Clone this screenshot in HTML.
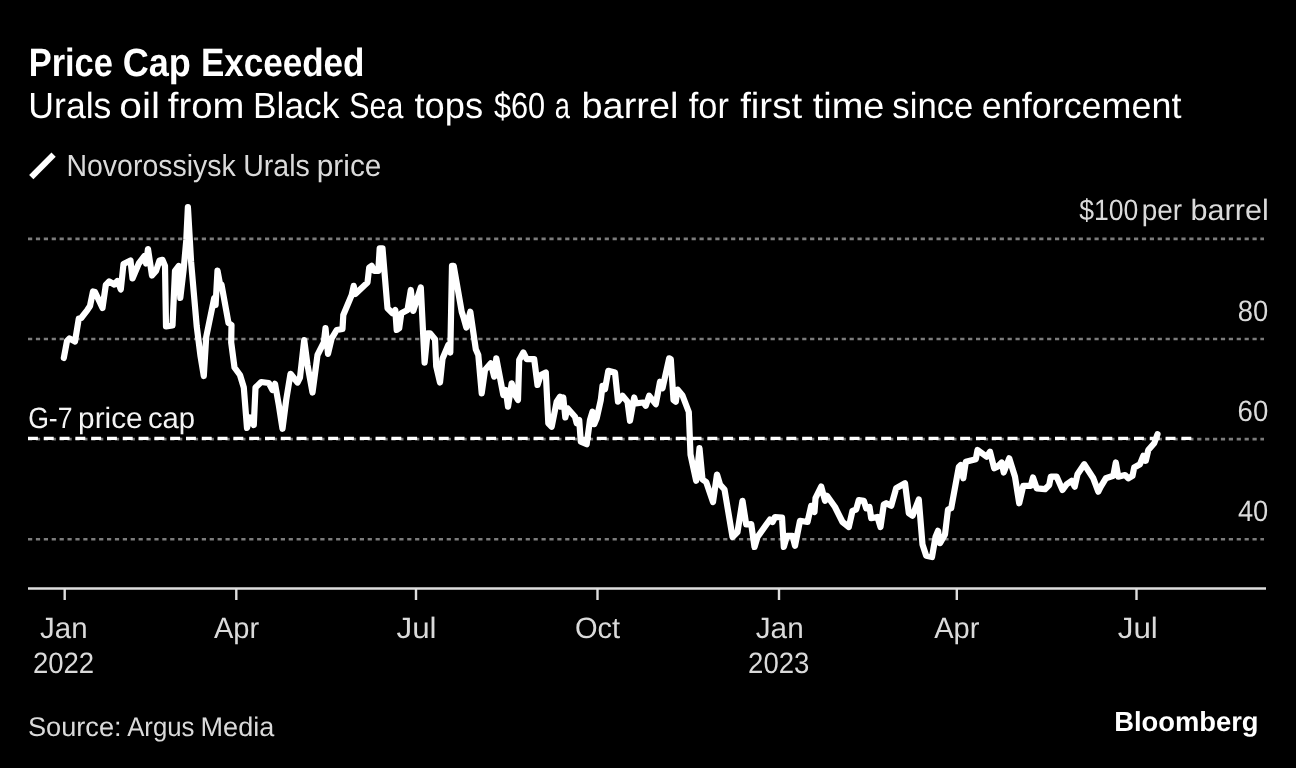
<!DOCTYPE html>
<html><head><meta charset="utf-8"><title>Price Cap Exceeded</title>
<style>
html,body{margin:0;padding:0;background:#000;}
body{width:1296px;height:768px;overflow:hidden;}
svg{display:block;will-change:transform;text-rendering:geometricPrecision;font-family:"Liberation Sans",sans-serif;}
</style></head><body>
<svg width="1296" height="768" viewBox="0 0 1296 768">
<rect width="1296" height="768" fill="#000000"/>
<line x1="28" x2="1264" y1="238.90" y2="238.90" stroke="#7c7c7c" stroke-width="2.6" stroke-dasharray="4.2 3.7"/>
<line x1="28" x2="1264" y1="339.03" y2="339.03" stroke="#7c7c7c" stroke-width="2.6" stroke-dasharray="4.2 3.7"/>
<line x1="28" x2="1264" y1="439.16" y2="439.16" stroke="#7c7c7c" stroke-width="2.6" stroke-dasharray="4.2 3.7"/>
<line x1="28" x2="1264" y1="539.29" y2="539.29" stroke="#7c7c7c" stroke-width="2.6" stroke-dasharray="4.2 3.7"/>
<line x1="28" x2="1191.5" y1="438.4" y2="438.4" stroke="#ffffff" stroke-width="3.3" stroke-dasharray="9.9 5.9"/>
<line x1="28" x2="1266" y1="588.5" y2="588.5" stroke="#dedede" stroke-width="2.4"/>
<line x1="64.7" x2="64.7" y1="588.5" y2="600" stroke="#dedede" stroke-width="2.4"/>
<line x1="236.3" x2="236.3" y1="588.5" y2="600" stroke="#dedede" stroke-width="2.4"/>
<line x1="416" x2="416" y1="588.5" y2="600" stroke="#dedede" stroke-width="2.4"/>
<line x1="597.5" x2="597.5" y1="588.5" y2="600" stroke="#dedede" stroke-width="2.4"/>
<line x1="779" x2="779" y1="588.5" y2="600" stroke="#dedede" stroke-width="2.4"/>
<line x1="956.8" x2="956.8" y1="588.5" y2="600" stroke="#dedede" stroke-width="2.4"/>
<line x1="1136.5" x2="1136.5" y1="588.5" y2="600" stroke="#dedede" stroke-width="2.4"/>
<polyline points="63.8,358.0 67.0,341.0 69.5,338.5 75.0,341.5 78.8,318.5 81.2,318.0 87.5,309.8 90.0,306.0 93.0,291.5 95.0,292.0 102.5,308.0 105.8,285.0 109.2,281.5 114.2,284.5 117.5,281.0 120.8,289.5 123.5,264.0 130.5,260.5 132.5,278.5 138.8,263.5 144.5,256.0 146.0,263.5 148.0,249.0 152.0,275.5 156.0,271.0 159.5,260.5 162.5,259.8 165.0,266.0 166.0,326.5 172.5,325.5 175.0,271.0 178.8,266.0 180.3,298.0 183.6,270.0 186.3,240.0 187.9,207.0 191.1,262.0 196.7,326.0 200.5,356.0 203.8,376.0 206.2,337.0 214.2,298.0 215.6,305.0 217.5,270.5 220.0,284.0 221.5,284.5 228.5,323.0 231.5,325.0 231.2,342.5 234.5,367.5 240.0,375.0 243.8,387.5 247.0,428.0 250.0,417.5 253.8,425.0 255.5,387.5 261.2,382.0 268.8,383.0 272.5,390.0 275.0,383.8 278.8,405.0 282.5,428.8 286.2,400.0 290.5,373.8 297.5,382.5 300.0,377.5 304.2,340.0 307.5,365.0 312.5,392.5 317.5,355.0 323.8,342.5 325.5,328.0 328.0,353.8 331.7,338.3 336.7,330.0 342.5,329.0 343.3,315.0 351.7,295.0 353.7,285.8 355.3,294.0 367.5,282.5 369.2,267.5 371.7,265.8 374.2,270.8 378.3,270.8 379.7,248.3 382.5,248.3 387.5,308.3 392.5,313.3 395.3,310.0 396.7,330.0 399.2,328.3 401.3,313.3 407.5,310.0 410.8,290.0 413.3,310.8 420.8,287.5 424.6,362.7 427.5,333.3 430.0,333.3 435.0,339.2 436.2,366.2 440.0,382.5 442.5,358.8 448.3,345.0 450.3,352.5 452.0,265.8 453.7,265.8 461.7,311.7 463.3,316.7 466.3,327.5 470.3,311.7 475.8,349.2 478.3,355.0 481.7,393.3 485.0,370.0 490.8,363.3 494.2,376.7 496.3,358.3 503.3,395.0 505.8,390.0 508.0,406.7 511.7,383.3 515.0,395.0 518.0,400.0 519.2,360.0 523.3,352.5 526.7,359.2 534.2,359.2 537.5,385.0 540.8,375.0 545.8,372.5 548.3,423.3 551.7,426.7 556.7,401.7 560.0,396.7 560.8,406.7 563.3,397.5 565.3,417.5 567.5,408.3 575.0,416.7 576.7,423.3 579.2,420.0 580.8,441.7 586.7,444.2 590.0,420.0 592.5,411.7 594.2,424.2 596.7,418.3 600.8,400.0 602.5,385.8 605.0,389.2 608.3,370.8 615.0,372.5 618.0,401.7 622.5,395.8 627.5,401.7 630.0,420.8 634.2,397.5 635.8,403.3 643.3,402.5 645.8,405.8 649.2,395.8 655.8,404.2 660.0,381.7 662.5,388.3 669.2,358.3 670.8,359.2 673.5,400.0 675.8,401.7 677.5,389.5 682.5,395.5 688.8,412.0 690.5,454.5 696.2,480.8 699.5,448.2 702.5,479.5 706.2,482.0 713.0,502.0 717.0,474.5 720.0,484.5 724.5,489.5 732.5,537.0 737.5,532.0 742.5,500.8 746.2,524.5 751.2,524.0 754.5,547.0 757.5,537.0 770.0,519.5 772.5,522.0 775.0,517.0 782.0,517.5 783.8,547.0 787.0,535.8 792.5,535.8 795.0,545.8 800.0,520.8 807.5,522.0 811.2,505.8 814.5,512.0 815.5,498.2 821.2,486.5 825.0,500.8 827.0,495.8 835.0,507.0 842.5,522.0 848.8,527.0 852.5,510.8 856.2,509.5 858.8,500.0 863.8,500.8 866.2,508.2 869.5,507.0 871.2,518.2 877.5,517.0 880.5,527.0 883.8,504.5 886.2,503.2 891.2,505.8 896.2,488.2 905.0,483.2 908.8,513.2 912.5,515.8 918.8,499.5 922.5,544.5 926.2,555.8 932.0,557.0 935.5,537.0 938.0,530.8 940.0,543.2 945.0,534.5 948.0,509.5 951.2,508.2 958.8,467.0 960.8,465.0 963.3,478.3 965.8,461.7 975.8,459.2 977.5,450.0 986.7,456.7 990.0,451.7 994.2,468.3 997.5,466.7 1001.7,462.5 1003.7,472.5 1009.2,458.3 1015.0,476.7 1019.2,503.3 1023.3,485.8 1030.8,485.8 1033.0,477.5 1036.7,488.3 1045.0,489.2 1049.2,485.0 1050.8,476.7 1056.7,476.7 1062.5,490.0 1066.7,484.2 1071.7,480.8 1074.7,486.7 1077.5,474.2 1084.2,464.2 1093.3,478.3 1098.3,491.7 1100.8,486.7 1105.8,478.3 1113.3,475.8 1115.8,462.5 1118.3,476.7 1125.0,475.0 1128.3,478.3 1132.5,475.8 1134.2,467.5 1140.0,464.2 1143.3,455.8 1145.8,460.8 1148.3,450.0 1154.2,443.3 1157.5,434.2" fill="none" stroke="#ffffff" stroke-width="6.2" stroke-linejoin="round" stroke-linecap="round"/>
<line x1="31.25" y1="177.2" x2="53.6" y2="154.65" stroke="#ffffff" stroke-width="6"/>
<text x="28.71" y="76.1" font-size="39.5" fill="#ffffff" font-weight="bold" textLength="84.19" lengthAdjust="spacingAndGlyphs">Price</text>
<text x="122.72" y="76.1" font-size="39.5" fill="#ffffff" font-weight="bold" textLength="68.17" lengthAdjust="spacingAndGlyphs">Cap</text>
<text x="200.97" y="76.1" font-size="39.5" fill="#ffffff" font-weight="bold" textLength="163.51" lengthAdjust="spacingAndGlyphs">Exceeded</text>
<text x="28.3" y="117.9" font-size="36.3" fill="#ffffff" textLength="83.12" lengthAdjust="spacingAndGlyphs">Urals</text>
<text x="119.32" y="117.9" font-size="36.3" fill="#ffffff" textLength="40.72" lengthAdjust="spacingAndGlyphs">oil</text>
<text x="167.77" y="117.9" font-size="36.3" fill="#ffffff" textLength="76.53" lengthAdjust="spacingAndGlyphs">from</text>
<text x="253.09" y="117.9" font-size="36.3" fill="#ffffff" textLength="86.23" lengthAdjust="spacingAndGlyphs">Black</text>
<text x="349.34" y="117.9" font-size="36.3" fill="#ffffff" textLength="54.03" lengthAdjust="spacingAndGlyphs">Sea</text>
<text x="414.5" y="117.9" font-size="36.3" fill="#ffffff" textLength="68.56" lengthAdjust="spacingAndGlyphs">tops</text>
<text x="493.98" y="117.9" font-size="36.3" fill="#ffffff" textLength="51.23" lengthAdjust="spacingAndGlyphs">$60</text>
<text x="554.87" y="117.9" font-size="36.3" fill="#ffffff" textLength="15.17" lengthAdjust="spacingAndGlyphs">a</text>
<text x="581.52" y="117.9" font-size="36.3" fill="#ffffff" textLength="97.02" lengthAdjust="spacingAndGlyphs">barrel</text>
<text x="688.83" y="117.9" font-size="36.3" fill="#ffffff" textLength="40.05" lengthAdjust="spacingAndGlyphs">for</text>
<text x="740.17" y="117.9" font-size="36.3" fill="#ffffff" textLength="61.9" lengthAdjust="spacingAndGlyphs">first</text>
<text x="812.78" y="117.9" font-size="36.3" fill="#ffffff" textLength="71.7" lengthAdjust="spacingAndGlyphs">time</text>
<text x="892.34" y="117.9" font-size="36.3" fill="#ffffff" textLength="81.02" lengthAdjust="spacingAndGlyphs">since</text>
<text x="981.82" y="117.9" font-size="36.3" fill="#ffffff" textLength="199.58" lengthAdjust="spacingAndGlyphs">enforcement</text>
<text x="66.47" y="176" font-size="30.5" fill="#dadada" textLength="169.26" lengthAdjust="spacingAndGlyphs">Novorossiysk</text>
<text x="243.28" y="176" font-size="30.5" fill="#dadada" textLength="66.57" lengthAdjust="spacingAndGlyphs">Urals</text>
<text x="316.8" y="176" font-size="30.5" fill="#dadada" textLength="64.53" lengthAdjust="spacingAndGlyphs">price</text>
<text x="28.15" y="428" font-size="29.5" fill="#f4f4f4" textLength="44.35" lengthAdjust="spacingAndGlyphs">G-7</text>
<text x="78.11" y="428" font-size="29.5" fill="#f4f4f4" textLength="64.52" lengthAdjust="spacingAndGlyphs">price</text>
<text x="147.96" y="428" font-size="29.5" fill="#f4f4f4" textLength="47.14" lengthAdjust="spacingAndGlyphs">cap</text>
<text x="1079.26" y="220" font-size="29.5" fill="#dadada" textLength="59.15" lengthAdjust="spacingAndGlyphs">$100</text>
<text x="1141.63" y="220" font-size="29.5" fill="#dadada" textLength="40.34" lengthAdjust="spacingAndGlyphs">per</text>
<text x="1190.56" y="220" font-size="29.5" fill="#dadada" textLength="78.13" lengthAdjust="spacingAndGlyphs">barrel</text>
<text x="1237.84" y="320.8" font-size="29.5" fill="#dadada" textLength="30.46" lengthAdjust="spacingAndGlyphs">80</text>
<text x="1237.6" y="420.8" font-size="29.5" fill="#dadada" textLength="30.72" lengthAdjust="spacingAndGlyphs">60</text>
<text x="1237.92" y="520.8" font-size="29.5" fill="#dadada" textLength="30.38" lengthAdjust="spacingAndGlyphs">40</text>
<text x="40.1" y="638" font-size="29.5" fill="#dadada" textLength="47.54" lengthAdjust="spacingAndGlyphs">Jan</text>
<text x="32.9" y="673" font-size="29.5" fill="#dadada" textLength="61.3" lengthAdjust="spacingAndGlyphs">2022</text>
<text x="213.88" y="638" font-size="29.5" fill="#dadada" textLength="45.22" lengthAdjust="spacingAndGlyphs">Apr</text>
<text x="396.47" y="638" font-size="29.5" fill="#dadada" textLength="40.12" lengthAdjust="spacingAndGlyphs">Jul</text>
<text x="574.89" y="638" font-size="29.5" fill="#dadada" textLength="45.24" lengthAdjust="spacingAndGlyphs">Oct</text>
<text x="755.75" y="638" font-size="29.5" fill="#dadada" textLength="47.96" lengthAdjust="spacingAndGlyphs">Jan</text>
<text x="748.1" y="673" font-size="29.5" fill="#dadada" textLength="61.32" lengthAdjust="spacingAndGlyphs">2023</text>
<text x="934.18" y="638" font-size="29.5" fill="#dadada" textLength="45.22" lengthAdjust="spacingAndGlyphs">Apr</text>
<text x="1117.72" y="638" font-size="29.5" fill="#dadada" textLength="40.12" lengthAdjust="spacingAndGlyphs">Jul</text>
<text x="27.94" y="735.5" font-size="27" fill="#dadada" textLength="93.62" lengthAdjust="spacingAndGlyphs">Source:</text>
<text x="127.18" y="735.5" font-size="27" fill="#dadada" textLength="67.31" lengthAdjust="spacingAndGlyphs">Argus</text>
<text x="200.55" y="735.5" font-size="27" fill="#dadada" textLength="73.69" lengthAdjust="spacingAndGlyphs">Media</text>
<text x="1114.13" y="731.25" font-size="27.5" fill="#ffffff" font-weight="bold" textLength="144.42" lengthAdjust="spacingAndGlyphs">Bloomberg</text>
</svg>
</body></html>
